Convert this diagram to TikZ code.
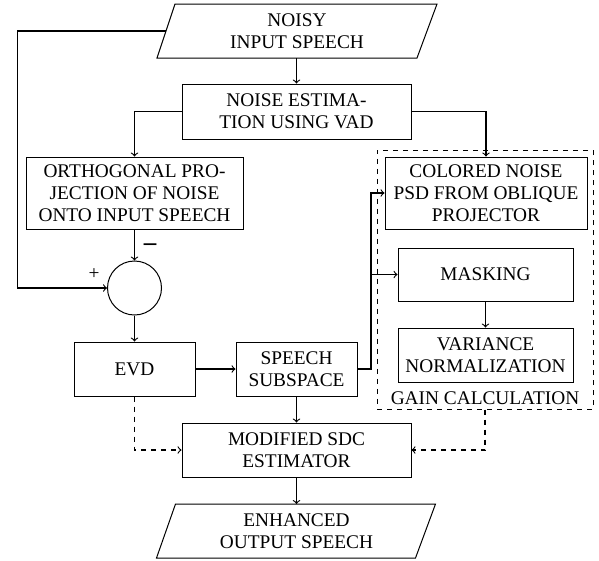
\documentclass[tikz,border=0pt]{standalone}
\usepackage{fontspec}
\setmainfont{Liberation Serif}
\newcommand\pxu{0.6pt}
\begin{document}
\begin{tikzpicture}[x=0.6pt,y=-0.6pt,
  every node/.style={font=\rmfamily\fontsize{11.6}{13.2}\selectfont, align=center, inner sep=0pt},
  box/.style={draw, line width=0.6pt},
  conn/.style={->, line width=0.7pt},
  dconn/.style={->, line width=0.7pt, dashed}]
\useasboundingbox (0,0) rectangle (599,560);
% input parallelogram
\draw[line width=0.6pt] (175,4) -- (437,4) -- (417,58) -- (157,58) -- cycle;
\node (in) at (297,31) {NOISY\\INPUT SPEECH};
\coordinate (inB) at (296.5,58);
\coordinate (inL) at (166,31);
% boxes
\node[box, minimum width=229*\pxu, minimum height=55*\pxu] (est) at (296.5,111.5) {NOISE ESTIMA-\\TION USING VAD};
\node[box, minimum width=217*\pxu, minimum height=72*\pxu] (orth) at (134.5,193) {ORTHOGONAL PRO-\\JECTION OF NOISE\\ONTO INPUT SPEECH};
\node[draw, dashed, line width=0.6pt, minimum width=216*\pxu, minimum height=259*\pxu] (gain) at (485,279.5) {};
\node[box, fill=white, minimum width=202*\pxu, minimum height=72*\pxu] (col) at (486,193) {COLORED NOISE\\PSD FROM OBLIQUE\\PROJECTOR};
\node[box, minimum width=175*\pxu, minimum height=53*\pxu] (mask) at (485.5,274.5) {MASKING};
\node[box, minimum width=175*\pxu, minimum height=54*\pxu] (var) at (485.5,355) {VARIANCE\\NORMALIZATION};
\node (gainlbl) at (485,398) {GAIN CALCULATION};
\node[draw, circle, line width=0.6pt, minimum size=54*\pxu] (sum) at (134.5,288) {};
\node[font=\rmfamily\bfseries\fontsize{15}{15}\selectfont] (minus) at (150,247) {--};
\node (plus) at (94,274) {+};
\node[box, minimum width=121*\pxu, minimum height=54*\pxu] (evd) at (134.5,369) {EVD};
\node[box, minimum width=121*\pxu, minimum height=54*\pxu] (sub) at (296.5,369) {SPEECH\\SUBSPACE};
\node[box, minimum width=229*\pxu, minimum height=54*\pxu] (sdc) at (296.5,450) {MODIFIED SDC\\ESTIMATOR};
% output parallelogram
\draw[line width=0.6pt] (175.5,504) -- (435.5,504) -- (415.5,558) -- (156.5,558) -- cycle;
\node (out) at (296.5,531) {ENHANCED\\OUTPUT SPEECH};
\coordinate (outT) at (296.5,504);
% connectors
\draw[conn] (inB) -- (est.north);
\draw[conn] (est.west) -| (orth.north);
\draw[conn] (est.east) -| (col.north);
\draw[conn] (inL) -- (17.3,31) |- (sum.west);
\draw[conn] (orth.south) -- (sum.north);
\draw[conn] (sum.south) -- (evd.north);
\draw[conn] (evd.east) -- (sub.west);
\draw[conn] (sub.east) -- (371,369) |- (col.west);
\draw[conn] (sub.east) -- (371,369) |- (mask.west);
\draw[conn] (mask.south) -- (var.north);
\draw[conn] (sub.south) -- (sdc.north);
\draw[conn] (sdc.south) -- (outT);
\draw[dconn] (evd.south) |- (sdc.west);
\draw[dconn] (gain.south) |- (sdc.east);
\end{tikzpicture}
\end{document}
